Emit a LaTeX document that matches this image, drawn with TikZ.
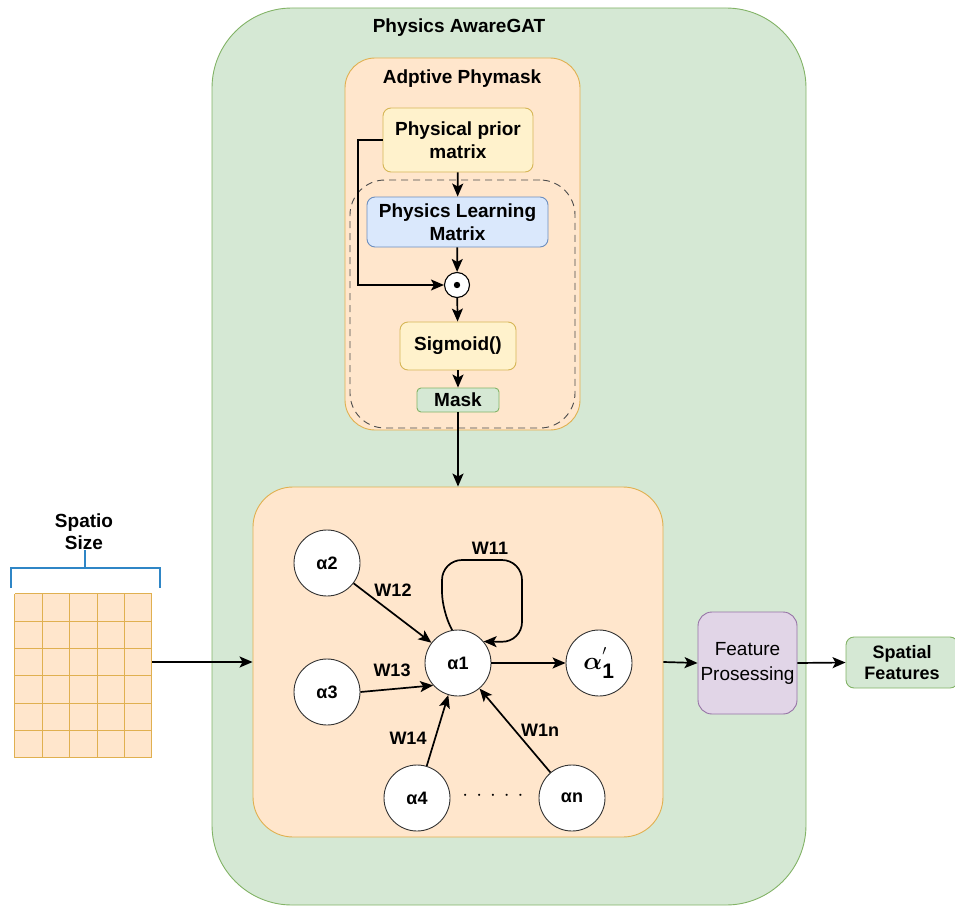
\documentclass[tikz,border=0pt]{standalone}
\usepackage{fontspec}
\usepackage{amsmath,bm}
\setmainfont{Liberation Sans}
\usetikzlibrary{arrows.meta,calc}
\definecolor{gfill}{HTML}{D5E8D4}
\definecolor{gline}{HTML}{82B366}
\definecolor{ofill}{HTML}{FFE6CC}
\definecolor{oline}{HTML}{E0B050}
\definecolor{yfill}{HTML}{FFF2CC}
\definecolor{yline}{HTML}{D6B656}
\definecolor{bfill}{HTML}{DAE8FC}
\definecolor{bline}{HTML}{6C8EBF}
\definecolor{pfill}{HTML}{E1D5E7}
\definecolor{pline}{HTML}{9673A6}
\definecolor{brk}{HTML}{2F86C6}
\begin{document}
\begin{tikzpicture}[x=1pt,y=-1pt,
  lbl/.style={font=\fontsize{19}{22}\selectfont\bfseries},
  box/.style={draw, rounded corners=8pt, line width=0.9pt, align=center, inner sep=0pt, font=\fontsize{19}{22.5}\selectfont\bfseries},
  ybox/.style={box, fill=yfill, draw=yline},
  arr/.style={-{Stealth[length=13pt,width=11pt,inset=3pt]}, line width=1.7pt, black},
  gnode/.style={circle, draw=black!80, fill=white, line width=0.9pt, minimum size=66pt, inner sep=0pt, font=\fontsize{18}{20}\selectfont\bfseries},
  wl/.style={font=\fontsize{18}{20}\selectfont\bfseries}
]
\useasboundingbox (0,0) rectangle (955,907);
% outer container
\node[draw=gline, fill=gfill, line width=0.9pt, rounded corners=80pt, minimum width=594pt, minimum height=897pt, inner sep=0pt] (outer) at (509,456.5) {};
\node[lbl] (title) at (459,28) {Physics AwareGAT};
% adaptive phymask
\node[draw=oline, fill=ofill, line width=0.9pt, rounded corners=30pt, minimum width=235pt, minimum height=372pt, inner sep=0pt] (apm) at (462.5,244) {};
\node[lbl] (apmt) at (462,79) {Adptive Phymask};
\node[draw=black!70, line width=0.9pt, dash pattern=on 7pt off 5pt, rounded corners=35pt, minimum width=225pt, minimum height=248pt, inner sep=0pt] (dash) at (462.5,304) {};
\node[ybox, minimum width=150pt, minimum height=64pt] (prior) at (458,140) {Physical prior\\matrix};
\node[box, fill=bfill, draw=bline, minimum width=181pt, minimum height=50pt] (plm) at (457.5,222) {Physics Learning\\Matrix};
\node[circle, draw=black, fill=white, line width=1.1pt, minimum size=25pt, inner sep=0pt] (dot) at (457,285) {};
\fill (dot.center) circle (3.2pt);
\node[ybox, minimum width=116pt, minimum height=48pt] (sig) at (458,346) {Sigmoid()};
\node[box, fill=gfill, draw=gline, rounded corners=4pt, minimum width=82pt, minimum height=24pt] (mask) at (458,400) {Mask};
\draw[arr] (prior) -- (plm);
\draw[arr] (plm) -- (dot);
\draw[arr] (dot) -- (sig);
\draw[arr] (sig) -- (mask);
\draw[arr] (prior.west) -| (358,285) -- (dot.west);
% GAT box
\node[draw=oline, fill=ofill, line width=0.9pt, rounded corners=40pt, minimum width=410pt, minimum height=350pt, inner sep=0pt] (gat) at (458,662) {};
\draw[arr] (mask) -- (mask |- gat.north);
% grid
\node[minimum width=137pt, minimum height=164pt, inner sep=0pt, fill=ofill] (grid) at (83.5,676) {};
\foreach \i in {0,...,5} \draw[oline, line width=1pt] ($(grid.north west)+(\i*27.4,0)$) -- ++(0,164);
\foreach \j in {0,...,6} \draw[oline, line width=1pt] ($(grid.north west)+(0,\j*27.333)$) -- ++(137,0);
\draw[brk, line width=1.6pt] (11,588) -- (11,568) -- (160,568) -- (160,588);
\draw[brk, line width=1.6pt] (85,568) -- (85,550);
\node[lbl, align=center] (ss) at (84,532) {Spatio\\Size};
\draw[arr] (grid.east |- gat.west) -- (gat.west);
% graph
\node[gnode] (a1) at (458,663) {α1};
\node[gnode] (a2) at (327,563) {α2};
\node[gnode] (a3) at (327,692) {α3};
\node[gnode] (a4) at (417,798) {α4};
\node[gnode] (an) at (572,798) {αn};
\node[gnode, font=\fontsize{30}{32}\selectfont] (a1p) at (599,663) {$\bm{\alpha}_{\mathbf{1}}^{\scriptscriptstyle '}$};
\draw[arr] (a2) -- (a1);
\draw[arr] (a3.east) -- (a1.222);
\draw[arr] (a4) -- (a1);
\draw[arr] (an) -- (a1);
\draw[arr] (a1) -- (a1p);
\draw[arr, rounded corners=20pt] (a1.100) -- (442,612) -- (442,560) -- (522,560) -- (522,642) -- (a1.40);
\node[wl] (w11) at (490,548) {W11};
\node[wl] (w12) at (393,590) {W12};
\node[wl] (w13) at (392,670) {W13};
\node[wl] (w14) at (408,738) {W14};
\node[wl] (w1n) at (540,730) {W1n};
\node[font=\fontsize{20}{20}\selectfont] (dots) at (493,796) {$\cdot\,\cdot\,\cdot\,\cdot\,\cdot$};
% right side
\node[box, fill=pfill, draw=pline, rounded corners=14pt, minimum width=99pt, minimum height=102pt, font=\fontsize{19}{25}\selectfont] (feat) at (747.5,663) {Feature\\Prosessing};
\node[box, fill=gfill, draw=gline, minimum width=112pt, minimum height=51pt, font=\fontsize{18}{21}\selectfont\bfseries] (spat) at (902,662.5) {Spatial\\Features};
\draw[arr] (gat.east) -- (feat.west);
\draw[arr] (feat.east) -- (spat.west);
\end{tikzpicture}
\end{document}
